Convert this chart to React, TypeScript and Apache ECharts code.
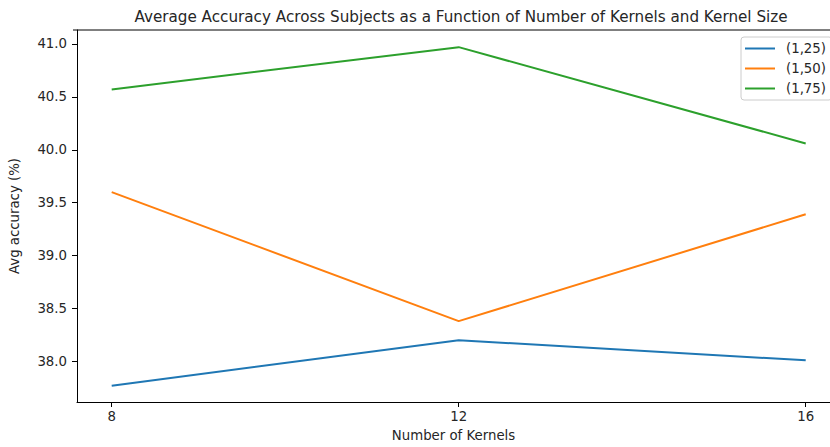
import React, { useEffect, useRef } from "react";
import * as echarts from "echarts";

// Number of kernels on the x axis
const kernelCounts = [8, 12, 16];
// Average accuracy (%) per kernel size
const acc_1_25 = [37.77, 38.2, 38.01];
const acc_1_50 = [39.6, 38.38, 39.39];
const acc_1_75 = [40.57, 40.97, 40.06];
const seriesNames = ["(1,25)", "(1,50)", "(1,75)"];
const yTicks = [38.0, 38.5, 39.0, 39.5, 40.0, 40.5, 41.0];

const colors = ["#1f77b4", "#ff7f0e", "#2ca02c"];
const FONT = "DejaVu Sans";
const TEXT = "#262626";
const FS = 13.3;

export default function App() {
  const ref = useRef<HTMLDivElement>(null);

  useEffect(() => {
    if (!ref.current) return;
    const chart = echarts.init(ref.current, null, { renderer: "svg" });
    const allSeries = [acc_1_25, acc_1_50, acc_1_75];
    chart.setOption({
      animation: false,
      backgroundColor: "#ffffff",
      textStyle: { fontFamily: FONT, color: TEXT },
      title: {
        text: "Average Accuracy Across Subjects as a Function of Number of Kernels and Kernel Size",
        left: 456,
        top: 4,
        textAlign: "center",
        textStyle: { fontFamily: FONT, fontSize: 15.2, fontWeight: "normal", color: TEXT },
      },
      legend: {
        left: 741,
        top: 37,
        orient: "vertical",
        itemGap: 7,
        itemWidth: 30,
        itemHeight: 13,
        padding: [5, 6, 5, 4],
        borderColor: "#cccccc",
        borderWidth: 1,
        borderRadius: 3,
        backgroundColor: "rgba(255,255,255,0.8)",
        textStyle: { fontFamily: FONT, fontSize: FS, color: TEXT, padding: [0, 0, 0, 6] },
        data: seriesNames.map((n) => ({ name: n, icon: "path://M0,5H30V7H0Z" })),
      },
      grid: { left: 73, top: 30, right: 0, height: 373.5, containLabel: false },
      xAxis: {
        type: "value",
        min: 7.6,
        max: 16.28,
        name: "Number of Kernels",
        nameLocation: "middle",
        nameGap: 27,
        nameTextStyle: { fontFamily: FONT, fontSize: FS, color: TEXT },
        axisLine: { show: true, lineStyle: { color: "#000", width: 1 } },
        axisTick: {
          show: true,
          length: 5,
          inside: false,
          customValues: kernelCounts,
          lineStyle: { color: "#000" },
        },
        axisLabel: {
          customValues: kernelCounts,
          margin: 8,
          fontFamily: FONT,
          fontSize: FS,
          color: TEXT,
        },
        splitLine: { show: false },
      },
      yAxis: {
        type: "value",
        min: 37.616,
        max: 41.132,
        name: "Avg accuracy (%)",
        nameLocation: "middle",
        nameGap: 56,
        nameTextStyle: { fontFamily: FONT, fontSize: FS, color: TEXT },
        axisLine: { show: true, lineStyle: { color: "#000", width: 1 } },
        axisTick: {
          show: true,
          length: 5,
          customValues: yTicks,
          lineStyle: { color: "#000" },
        },
        axisLabel: {
          customValues: yTicks,
          margin: 10,
          fontFamily: FONT,
          fontSize: FS,
          color: TEXT,
          formatter: (v: number) => v.toFixed(1),
        },
        splitLine: { show: false },
      },
      series: allSeries.map((vals, i) => ({
        name: seriesNames[i],
        type: "line",
        data: kernelCounts.map((k, j) => [k, vals[j]]),
        showSymbol: false,
        symbol: "none",
        color: colors[i],
        lineStyle: { width: 2, color: colors[i] },
        z: 2,
      })),
      graphic: [
        {
          type: "line",
          shape: { x1: 73, y1: 30, x2: 830, y2: 30 },
          style: { stroke: "#000", lineWidth: 1 },
          z: 10,
        },
      ],
    });
    return () => chart.dispose();
  }, []);

  return (
    <div
      ref={ref}
      style={{ position: "fixed", left: 0, top: 0, width: 830, height: 447 }}
    />
  );
}
